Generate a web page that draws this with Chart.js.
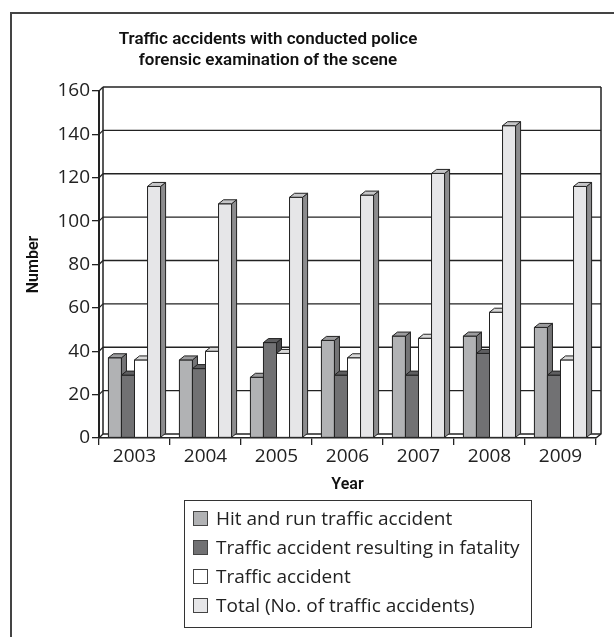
<!DOCTYPE html>
<html>
<head>
<meta charset="utf-8">
<script src="https://cdn.jsdelivr.net/npm/chart.js@4/dist/chart.umd.min.js"></script>
<style>
    html, body { margin: 0; padding: 0; background: #fff; }
    .wrap { position: relative; width: 614px; height: 637px; overflow: hidden; }
    .frame { position: absolute; left: 10px; top: 12px; width: 700px; height: 700px; border-left: 2px solid #444; border-top: 2px solid #444; }
    canvas { position: absolute; left: 0; top: 0; }
    .title { position: absolute; left: 0; top: 28px; width: 536px; text-align: center; font-family: Roboto, sans-serif; font-weight: 600; font-size: 17px; line-height: 21px; color: #111; }
    .legend { position: absolute; left: 184px; top: 500px; width: 346px; height: 126px; border: 1.5px solid #333; font-family: 'Open Sans', sans-serif; font-size: 19px; color: #222; }
    .legend__item { position: absolute; left: 0; height: 29px; line-height: 29px; white-space: nowrap; }
    .legend__swatch { position: absolute; left: 8px; top: 7px; width: 13px; height: 13px; border: 1.5px solid #444; }
    .legend__label { position: absolute; left: 31px; }
</style>
</head>
<body>
<div class="wrap">
    <div class="frame"></div>
    <canvas id="chart" width="614" height="637"></canvas>
    <div class="title">Traffic accidents with conducted police<br>forensic examination of the scene</div>
    <div class="legend" id="legend"></div>
</div>
<script>
(function () {
    const years = ['2003', '2004', '2005', '2006', '2007', '2008', '2009'];
    const hitAndRun = [37, 36, 28, 45, 47, 47, 51];
    const fatality = [29, 32, 44, 29, 29, 39, 29];
    const accident = [36, 40, 39, 37, 46, 58, 36];
    const total = [116, 108, 111, 112, 122, 144, 116];
    const yTicks = [0, 20, 40, 60, 80, 100, 120, 140, 160];

    const labels = [
        'Hit and run traffic accident',
        'Traffic accident resulting in fatality',
        'Traffic accident',
        'Total (No. of traffic accidents)',
    ];
    // front, side, top
    const shades = [
        ['#b1b2b4', '#747476', '#9c9c9e'],
        ['#717173', '#4a4a4c', '#5e5e60'],
        ['#ffffff', '#a6a6a8', '#d8d8d8'],
        ['#e6e6e8', '#8c8c8e', '#c6c6c8'],
    ];
    const DX = 5;
    const DY = 4;
    const INK = '#222';

    function poly(ctx, pts, fill) {
        ctx.beginPath();
        ctx.moveTo(pts[0][0], pts[0][1]);
        for (let i = 1; i < pts.length; i++) ctx.lineTo(pts[i][0], pts[i][1]);
        ctx.closePath();
        ctx.fillStyle = fill;
        ctx.fill();
        ctx.stroke();
    }

    // back wall, floor, grid and 3d bar faces, all placed with the chart's own scales
    const wallPlugin = {
        id: 'wall',
        beforeDatasetsDraw(chart) {
            const { ctx, chartArea: a, scales } = chart;
            const y = scales.y;
            ctx.save();
            ctx.strokeStyle = INK;
            ctx.lineWidth = 1.3;
            yTicks.forEach((v) => {
                const py = y.getPixelForValue(v);
                ctx.beginPath();
                ctx.moveTo(a.left + DX - 1, py - DY);
                ctx.lineTo(a.right + DX, py - DY);
                ctx.stroke();
                ctx.beginPath();
                ctx.moveTo(a.left, py);
                ctx.lineTo(a.left + DX - 1, py - DY);
                ctx.stroke();
            });
            ctx.lineWidth = 1.5;
            ctx.beginPath();
            ctx.moveTo(a.left + DX - 1, a.top - DY);
            ctx.lineTo(a.left + DX - 1, a.bottom - DY);
            ctx.moveTo(a.right + DX, a.top - DY);
            ctx.lineTo(a.right + DX, a.bottom - DY);
            ctx.lineTo(a.right, a.bottom);
            ctx.stroke();
            ctx.restore();
        },
        afterDatasetsDraw(chart) {
            const { ctx } = chart;
            ctx.save();
            ctx.strokeStyle = INK;
            ctx.lineWidth = 1;
            // series in order, so each bar hides the side face of the one before
            chart.data.datasets.forEach((ds, i) => {
                const c = shades[i];
                chart.getDatasetMeta(i).data.forEach((bar) => {
                    const x0 = bar.x - bar.width / 2;
                    const x1 = bar.x + bar.width / 2;
                    const top = bar.y;
                    const base = bar.base;
                    poly(ctx, [[x0, top], [x1, top], [x1, base], [x0, base]], c[0]);
                    poly(ctx, [[x1, top], [x1 + DX, top - DY], [x1 + DX, base - DY], [x1, base]], c[1]);
                    poly(ctx, [[x0, top], [x0 + DX, top - DY], [x1 + DX, top - DY], [x1, top]], c[2]);
                });
            });
            ctx.restore();
        },
    };

    const series = [hitAndRun, fatality, accident, total];
    const datasets = series.map((data, i) => ({
        label: labels[i],
        data,
        backgroundColor: shades[i][0],
        borderColor: INK,
        borderWidth: 1,
    }));

    new Chart(document.getElementById('chart').getContext('2d'), {
        type: 'bar',
        data: { labels: years, datasets },
        options: {
            responsive: false,
            animation: false,
            layout: { padding: { left: 18, right: 18, top: 91, bottom: 142 } },
            datasets: { bar: { categoryPercentage: 0.735, barPercentage: 1 } },
            plugins: {
                legend: { display: false },
                tooltip: { enabled: false },
                title: { display: false },
            },
            scales: {
                x: {
                    grid: { offset: true, drawOnChartArea: false, tickLength: 7, color: INK, lineWidth: 1.3 },
                    border: { color: INK, width: 1.5 },
                    ticks: { color: '#222', font: { family: 'Open Sans', size: 19 }, padding: 0 },
                    title: { display: true, text: 'Year', color: '#111', font: { family: 'Roboto', size: 16, weight: '600' }, padding: 0 },
                    afterFit(scale) { scale.height = 57; },
                },
                y: {
                    min: 0,
                    max: 160,
                    afterBuildTicks(scale) { scale.ticks = yTicks.map((v) => ({ value: v })); },
                    grid: { drawOnChartArea: false, tickLength: 7, color: INK, lineWidth: 1.3 },
                    border: { color: INK, width: 2 },
                    ticks: { color: '#222', font: { family: 'Open Sans', size: 19 }, padding: 2 },
                    title: { display: true, text: 'Number', color: '#111', font: { family: 'Roboto', size: 16, weight: '600' }, padding: { top: 6, bottom: 0 } },
                    afterFit(scale) { scale.width = 81; },
                },
            },
        },
        plugins: [wallPlugin],
    });

    // legend, one row per series
    const legend = document.getElementById('legend');
    datasets.forEach((ds, i) => {
        const item = document.createElement('div');
        item.className = 'legend__item';
        item.style.top = (3 + i * 29) + 'px';
        const swatch = document.createElement('span');
        swatch.className = 'legend__swatch';
        swatch.style.backgroundColor = ds.backgroundColor;
        const label = document.createElement('span');
        label.className = 'legend__label';
        label.textContent = ds.label;
        item.appendChild(swatch);
        item.appendChild(label);
        legend.appendChild(item);
    });
})();
</script>
</body>
</html>
